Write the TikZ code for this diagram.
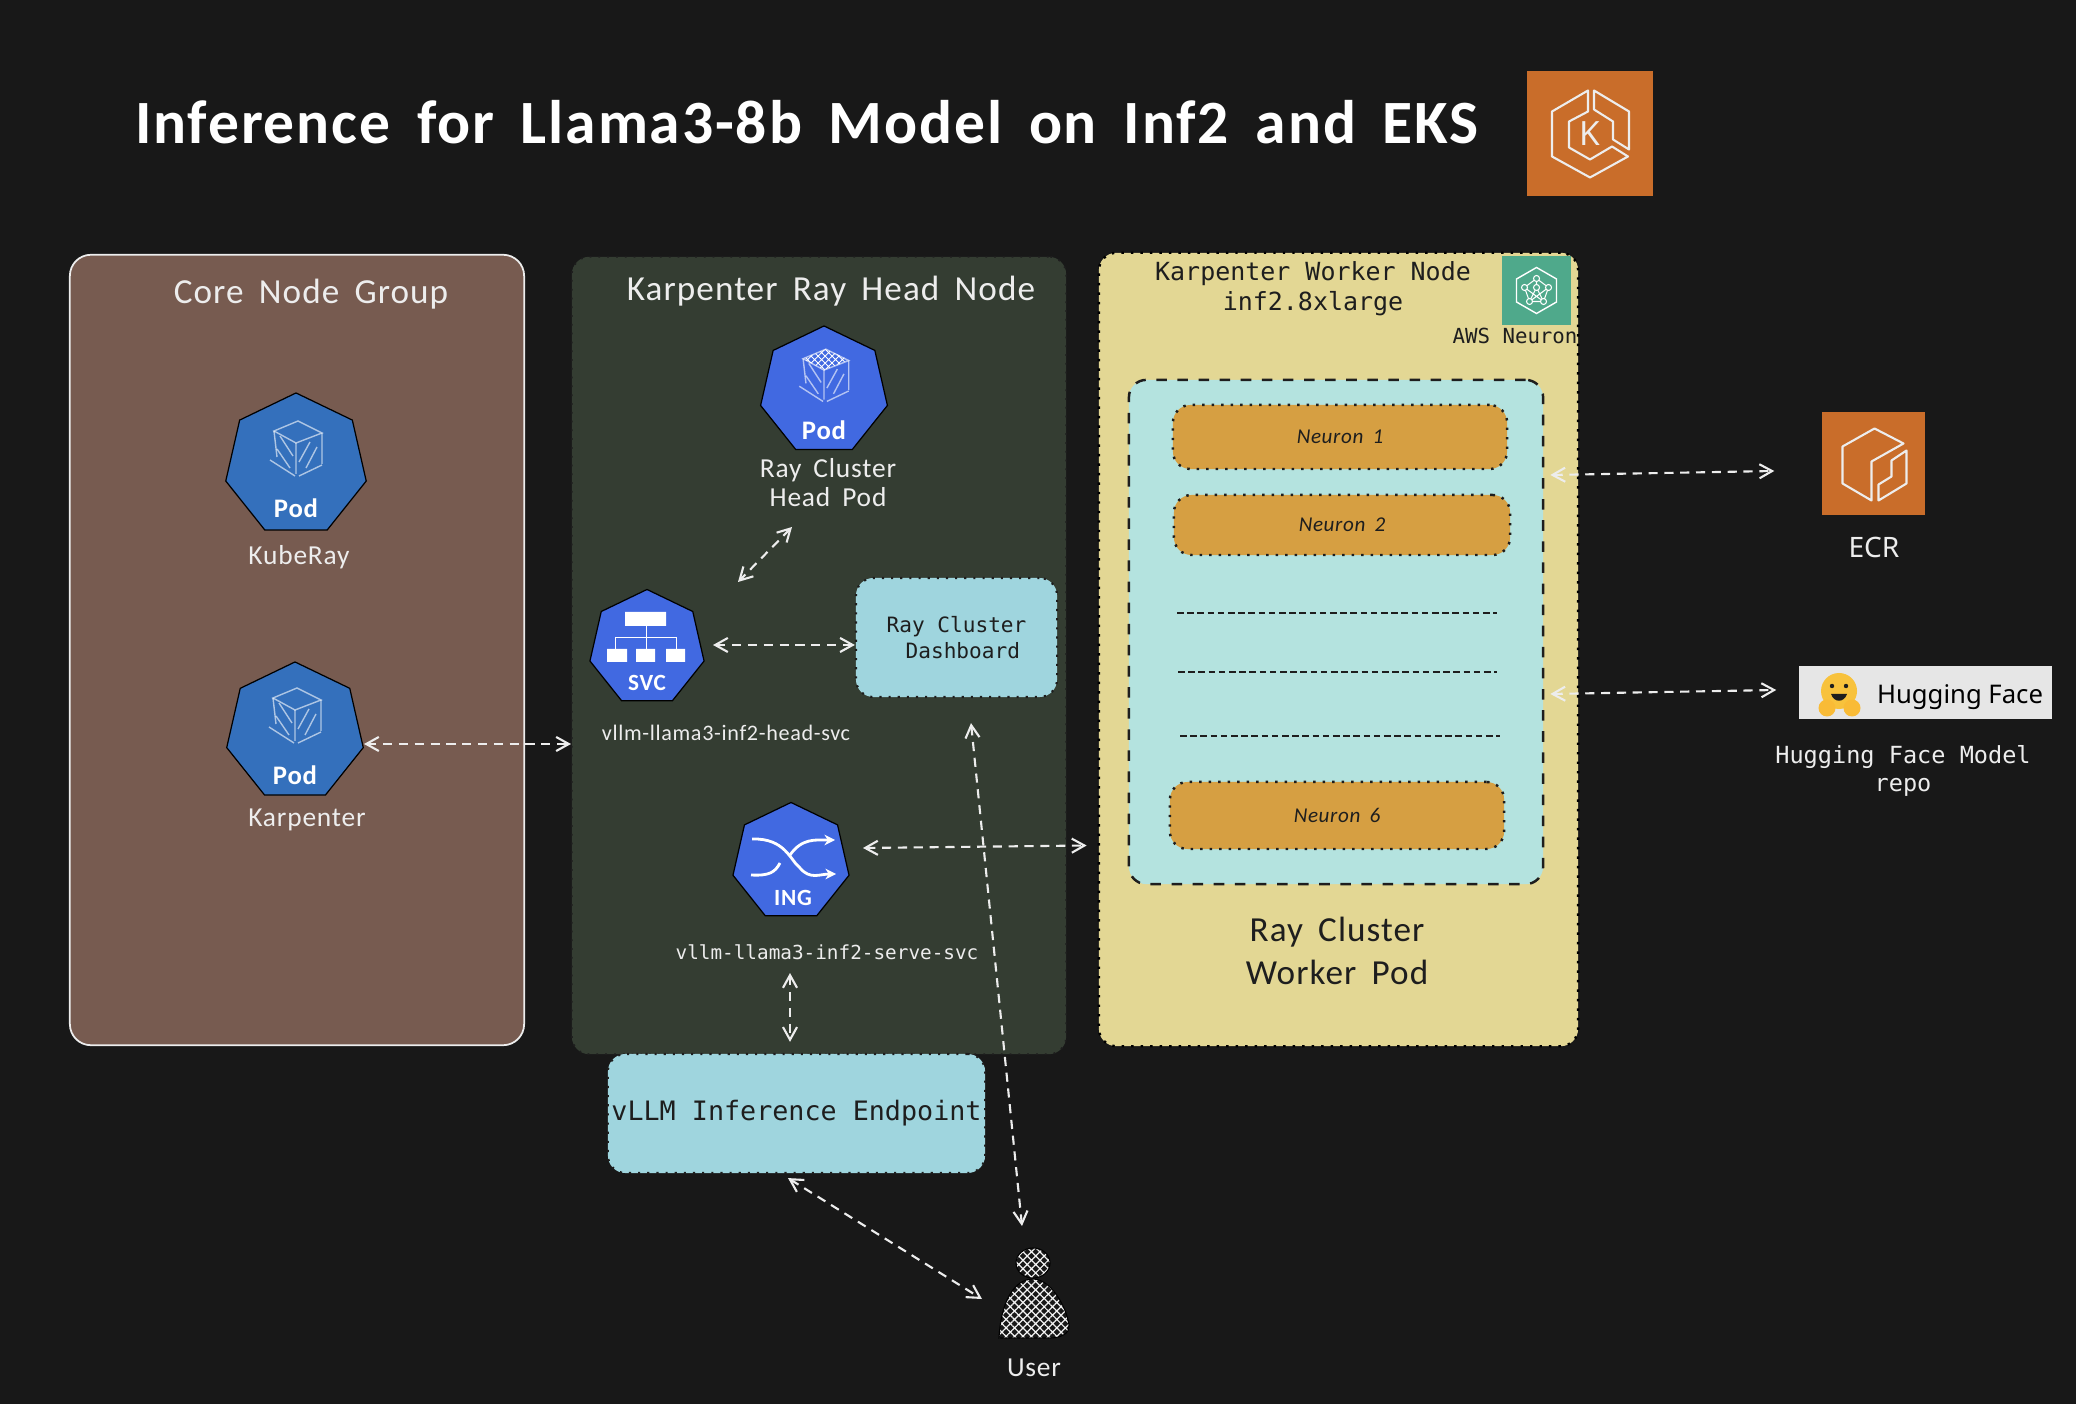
\documentclass[tikz,border=0pt]{standalone}
\usepackage{fontspec}
\usepackage{xcolor}
\usepackage{tikz}
\usetikzlibrary{calc,arrows.meta,patterns.meta,shapes.geometric}
\newfontfamily\sketchfont[LetterSpace=3,WordSpace=1.7]{Carlito}
\newfontfamily\codefont{DejaVu Sans Mono}
\newfontfamily\plainfont{Noto Sans}
\definecolor{bgdark}{HTML}{181818}
\definecolor{chalk}{HTML}{EDEDED}
\definecolor{inkdark}{HTML}{1E1E1E}
\definecolor{corefill}{HTML}{775B50}
\definecolor{headfill}{HTML}{343D32}
\definecolor{workerfill}{HTML}{E3D794}
\definecolor{podteal}{HTML}{B4E3DF}
\definecolor{neuronfill}{HTML}{D69F42}
\definecolor{dashfill}{HTML}{9FD5DE}
\definecolor{awsorange}{HTML}{C96D2A}
\definecolor{awsgreen}{HTML}{4FA98B}
\definecolor{kubeblue}{HTML}{3470BC}
\definecolor{royal}{HTML}{4169E1}
\definecolor{hfgrey}{HTML}{E6E6E6}
\definecolor{hfyellow}{HTML}{F8C23C}
\tikzset{
  corebox/.style={draw=chalk, fill=corefill, rounded corners=6pt, line width=0.5pt},
  headbox/.style={draw=inkdark, fill=headfill, dotted, rounded corners=5pt, line width=0.5pt},
  workerbox/.style={draw=black, fill=workerfill, dotted, rounded corners=5pt, line width=0.7pt},
  raybox/.style={draw=inkdark, fill=podteal, dashed, rounded corners=5pt, line width=0.7pt},
  neuronbox/.style={draw=inkdark, fill=neuronfill, dotted, rounded corners=5pt, line width=0.7pt,
    text=inkdark, font=\sketchfont\itshape\fontsize{6}{7}\selectfont},
  cyanbox/.style={draw=inkdark, fill=dashfill, dotted, rounded corners=5pt, line width=0.6pt, text=inkdark},
  podshape/.style={regular polygon, regular polygon sides=7, draw=black, line width=0.35pt, inner sep=0pt},
  iconsq/.style={inner sep=0pt, fill=awsorange},
  titlelab/.style={text=white, font=\sketchfont\bfseries\fontsize{17.5}{20}\selectfont},
  grouplab/.style={text=chalk, font=\sketchfont\fontsize{10}{12}\selectfont},
  podlab/.style={text=white, font=\sketchfont\bfseries\fontsize{7.6}{9}\selectfont},
  sketchlab/.style={text=chalk, align=center, font=\sketchfont\fontsize{7.8}{8.2}\selectfont},
  codelab/.style={text=inkdark, align=center, font=\codefont\fontsize{7.1}{8.5}\selectfont},
  flow/.style={draw=chalk, dashed, dash pattern=on 2.6pt off 1.9pt, line width=0.6pt,
    {Straight Barb[length=3.6pt,width=4pt]}-{Straight Barb[length=3.6pt,width=4pt]}},
  glyph/.style={draw=white, line width=0.4pt, opacity=0.6},
  awsline/.style={draw=chalk, line width=0.6pt, line join=round}
}
\newcommand{\PodCube}[2]{%
  \begin{scope}[shift={(#1)}, scale=#2]
    \draw[glyph] (-22,-34) -- (2,-44) -- (26,-32) -- (0,-22) -- cycle;
    \draw[glyph] (-22,-34) -- (-19,-8) (0,-22) -- (0,9) (26,-32) -- (26,-1);
    \draw[glyph] (-26,-5) -- (-1,11) (3,11) -- (26,0);
    \draw[glyph] (-16,-29) -- (-3,-9) (-19,-16) -- (-6,3) (14,-23) -- (3,-3) (21,-18) -- (10,3);
  \end{scope}
}

\begin{document}
\begin{tikzpicture}[x=0.01cm,y=-0.01cm]
  \path[use as bounding box, fill=bgdark] (0,0) rectangle (2076,1404);

  \node[titlelab] (title) at (807,122) {Inference for Llama3-8b Model on Inf2 and EKS};

  % eks logo
  \node[iconsq, minimum width=1.26cm, minimum height=1.25cm] (ekslogo) at (1590,133.5) {};
  \begin{scope}[shift={(ekslogo.center)}]
    \draw[awsline] (-2,-43) -- (-38,-22) -- (-38,23) -- (0,44) -- (38,23) -- (22,13) -- (0,26)
      -- (-21,14) -- (-21,-12) -- (-2,-22) -- cycle;
    \draw[awsline] (4,-43) -- (39,-22) -- (39,16) -- (23,6) -- (23,-12) -- (4,-24) -- cycle;
  \end{scope}
  \node[text=chalk, font=\plainfont\fontsize{9.5}{10}\selectfont] (ekslabel) at (ekslogo.center) {K};

  % the three big panels
  \node[corebox, minimum width=4.54cm, minimum height=7.90cm] (coregroup) at (297,650) {};
  \node[headbox, minimum width=4.94cm, minimum height=7.97cm] (headnode) at (819,655.5) {};
  \node[workerbox, minimum width=4.79cm, minimum height=7.93cm] (workernode) at (1338.5,649.5) {};

  \node[grouplab] (corelab) at (311,294) {Core Node Group};
  \node[grouplab] (headlab) at (831,291) {Karpenter Ray Head Node};
  \node[codelab] (workerlab) at (1313,289) {Karpenter Worker Node\\inf2.8xlarge};

  % pods on the core group
  \node[podshape, fill=kubeblue, minimum size=1.44cm] (kuberay) at (296,465) {};
  \PodCube{kuberay.center}{1}
  \node[podlab] (kuberaypod) at (296,508) {Pod};
  \node[sketchlab] (kuberaylab) at (299,557) {KubeRay};

  \node[podshape, fill=kubeblue, minimum size=1.40cm] (karpenter) at (295,732) {};
  \PodCube{karpenter.center}{1}
  \node[podlab] (karpenterpod) at (295,775) {Pod};
  \node[sketchlab] (karpenterlab) at (307,820) {Karpenter};

  % head node
  \node[podshape, fill=royal, minimum size=1.30cm] (headpod) at (824,391) {};
  \PodCube{headpod.center}{0.95}
  \fill[pattern={Hatch[angle=45,distance=1.4pt,line width=0.25pt]}, pattern color=white]
    (803,359) -- (826,349) -- (849,360) -- (824,370) -- cycle;
  \node[podlab] (headpodtag) at (824,430) {Pod};
  \node[sketchlab] (headpodlab) at (828,483) {Ray Cluster\\Head Pod};

  \node[podshape, fill=royal, minimum size=1.17cm] (svc) at (647,648) {};
  \fill[white] (625,612) rectangle (666,626) (607,649) rectangle (627,662)
    (636,649) rectangle (655,662) (666,649) rectangle (685,662);
  \draw[white, line width=0.25pt] (646,626) -- (646,649) (615,637) -- (676,637)
    (615,637) -- (615,649) (676,637) -- (676,649);
  \node[podlab, font=\sketchfont\bfseries\fontsize{6.6}{8}\selectfont] (svctag) at (647,683) {SVC};
  \node[sketchlab, font=\sketchfont\fontsize{6.3}{7}\selectfont] (headsvc) at (726,733) {vllm-llama3-inf2-head-svc};

  \node[cyanbox, font=\codefont\fontsize{6}{7.4}\selectfont, align=center,
    minimum width=2.01cm, minimum height=1.19cm] (dashboard) at (956.5,637.5)
    {Ray Cluster\\\hspace*{0.6em}Dashboard};

  \node[podshape, fill=royal, minimum size=1.19cm] (ingress) at (791,862) {};
  \draw[white, line width=0.8pt, -{Stealth[length=3pt,width=3pt]}] (752,839)
    .. controls (785,838) and (790,860) .. (800,868) .. controls (810,880) and (820,874) .. (836,874);
  \draw[white, line width=0.8pt] (751,875) .. controls (770,876) and (775,872) .. (780,863);
  \draw[white, line width=0.8pt, -{Stealth[length=3pt,width=3pt]}] (790,855)
    .. controls (802,838) and (815,840) .. (835,840);
  \node[podlab, font=\sketchfont\bfseries\fontsize{6.6}{8}\selectfont] (ingtag) at (793,898) {ING};
  \node[codelab, text=chalk, font=\codefont\fontsize{5.5}{7}\selectfont] (servesvc) at (827,952) {vllm-llama3-inf2-serve-svc};

  \node[cyanbox, font=\codefont\fontsize{7.6}{9}\selectfont, inner sep=0pt,
    minimum width=3.77cm, minimum height=1.19cm] (endpoint) at (796.5,1113.5) {vLLM Inference Endpoint};

  % worker node
  \node[inner sep=0pt, fill=awsgreen, minimum width=0.69cm, minimum height=0.69cm] (neuronlogo) at (1536.5,290.5) {};
  \begin{scope}[shift={(neuronlogo.center)}]
    \draw[white, line width=0.4pt] (0,-23) -- (20,-11.5) -- (20,11.5) -- (0,23) -- (-20,11.5) -- (-20,-11.5) -- cycle;
    \draw[white, line width=0.3pt] (0,-12) -- (-12,-3) -- (-7,11) -- (0,-3) -- (7,11) -- (12,-3) -- cycle
      (0,-12) -- (0,-3) (-7,11) -- (7,11) (-12,-3) -- (7,11) (12,-3) -- (-7,11);
    \foreach \px/\py in {0/-12,-12/-3,12/-3,0/-3,-7/11,7/11}
      \filldraw[draw=white, fill=awsgreen, line width=0.3pt] (\px,\py) circle (3);
  \end{scope}
  \node[codelab, font=\codefont\fontsize{5.9}{7}\selectfont] (neuronlab) at (1515,336) {AWS Neuron};

  \node[raybox, minimum width=4.14cm, minimum height=5.04cm] (raypod) at (1336,632) {};
  \node[neuronbox, minimum width=3.34cm, minimum height=0.64cm] (neuronone) at (1340,437) {Neuron 1};
  \node[neuronbox, minimum width=3.36cm, minimum height=0.60cm] (neurontwo) at (1342,525) {Neuron 2};
  \foreach \xa/\xb/\ly in {1177/1497/613,1178/1497/672,1180/1500/736}
    \draw[inkdark, dashed, dash pattern=on 1.9pt off 1pt, line width=0.35pt] (\xa,\ly) -- (\xb,\ly);
  \node[neuronbox, minimum width=3.34cm, minimum height=0.67cm] (neuronsix) at (1337,815.5) {Neuron 6};
  \node[sketchlab, text=inkdark, font=\sketchfont\fontsize{10}{12.2}\selectfont] (workerpod) at (1337,951) {Ray Cluster\\Worker Pod};

  % ecr and hugging face
  \node[iconsq, minimum width=1.03cm, minimum height=1.03cm] (ecr) at (1873.5,463.5) {};
  \begin{scope}[shift={(ecr.center)}]
    \draw[awsline] (1,-35) -- (30,-20) -- (-2,-2) -- (-2,37) -- (-31,20) -- (-31,-17) -- cycle;
    \draw[awsline] (33,-13) -- (33,20) -- (5,37) -- (5,21) -- (18,13) -- (18,-3) -- cycle;
  \end{scope}
  \node[text=chalk, font=\plainfont\fontsize{8}{9}\selectfont] (ecrlab) at (1874,547) {ECR};

  \node[inner sep=0pt, fill=hfgrey, minimum width=2.53cm, minimum height=0.53cm] (hfbox) at (1925.5,692.5) {};
  \fill[hfyellow] (1839,691) circle (18);
  \fill[hfyellow!90!orange] (1827,708) circle (8.5) (1852,708) circle (8.5);
  \fill[inkdark] (1832,686) circle (2.2) (1846,686) circle (2.2);
  \fill[inkdark] (1831,694) .. controls (1834,703) and (1844,703) .. (1847,694) -- cycle;
  \node[text=black, inner sep=0pt, font=\plainfont\bfseries\fontsize{7.3}{9}\selectfont] (hflogo) at (1960,697) {Hugging Face};
  \node[codelab, text=chalk, font=\codefont\fontsize{6.7}{8.2}\selectfont] (hfrepo) at (1903,771) {Hugging Face Model\\repo};

  % user
  \node[ellipse, draw=black, line width=0.3pt, inner sep=0pt, minimum width=0.34cm, minimum height=0.30cm,
    pattern={Hatch[angle=45,distance=1.7pt,line width=0.35pt]}, pattern color=chalk!70] (userhead) at (1033,1263) {};
  \draw[black, line width=0.3pt, pattern={Hatch[angle=45,distance=1.7pt,line width=0.35pt]}, pattern color=chalk!70]
    (999,1338) .. controls (1001,1300) and (1015,1279) .. (1033,1279) .. controls (1050,1279) and (1066,1305) .. (1069,1325)
    .. controls (1070,1334) and (1060,1338) .. (1050,1338) -- cycle;
  \node[sketchlab] (userlab) at (1034,1368) {User};

  % connectors
  \coordinate (karpout) at ([shift={(69,12)}]karpenter.center);
  \coordinate (svcout) at ([shift={(66,-3)}]svc.center);
  \draw[flow] (karpout) -- (karpout -| headnode.west);
  \draw[flow] (svcout) -- (svcout -| dashboard.west);
  \draw[flow] ([shift={(-32,136)}]headpod.center) -- ([shift={(91,-66)}]svc.center);
  \draw[flow] ([shift={(72,-14)}]ingress.center) -- ([shift={(-11,196)}]workernode.west);
  \draw[flow] ([shift={(14.5,25)}]dashboard.south) -- ([shift={(-11,-37)}]userhead.center);
  \draw[flow] ([shift={(-37,21)}]servesvc.center) -- ([shift={(-6.5,-11)}]endpoint.north);
  \draw[flow] ([shift={(-8.5,4)}]endpoint.south) -- ([shift={(-51,36)}]userhead.center);
  \draw[flow] ([shift={(6,-157)}]raypod.east) -- ([shift={(-47,7.5)}]ecr.west);
  \draw[flow] ([shift={(6,62)}]raypod.east) -- ([shift={(-22,-2.5)}]hfbox.west);
\end{tikzpicture}
\end{document}
